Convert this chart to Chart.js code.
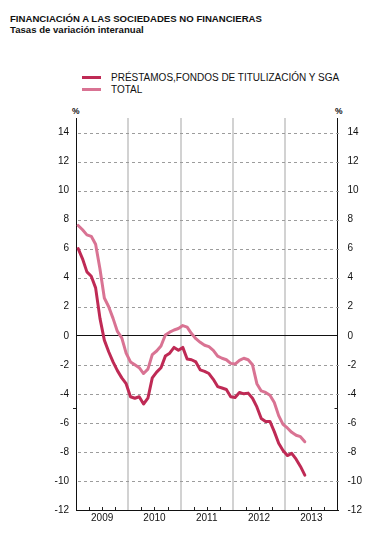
<!DOCTYPE html>
<html>
<head>
<meta charset="utf-8">
<script src="https://cdn.jsdelivr.net/npm/chart.js@4.4.1/dist/chart.umd.min.js"></script>
<style>
  html, body { margin: 0; padding: 0; background: #fff; }
  body { width: 380px; height: 537px; position: relative; overflow: hidden; font-family: Arial, "Liberation Sans", sans-serif; color: #111; }
  #chart { position: absolute; left: 0; top: 0; }
  .title { position: absolute; left: 10px; font-weight: bold; font-size: 9.6px; line-height: 1; white-space: nowrap; }
  .pct { position: absolute; top: 106px; font-weight: bold; font-size: 8.5px; }
  #legend { position: absolute; left: 82px; top: 71px; font-size: 10px; }
  #legend .row { height: 12px; display: flex; align-items: center; white-space: nowrap; }
  #legend .sw { width: 19px; height: 3px; margin-right: 10px; }
</style>
</head>
<body>
<div class="title" style="top:14px">FINANCIACIÓN A LAS SOCIEDADES NO FINANCIERAS</div>
<div class="title" style="top:25px">Tasas de variación interanual</div>
<div id="legend"></div>
<div class="pct" style="left:72px">%</div>
<div class="pct" style="left:335px">%</div>
<canvas id="chart" width="380" height="537"></canvas>
<script>
// monthly, Jan 2009 .. May 2013
const prestamos = [
  6.0, 5.3, 4.4, 4.1, 3.3, 1.2, -0.3, -1.1, -1.8, -2.4, -2.9, -3.3,
  -4.2, -4.3, -4.2, -4.7, -4.3, -2.9, -2.5, -2.2, -1.4, -1.2, -0.8, -1.0,
  -0.8, -1.6, -1.65, -1.8, -2.35, -2.45, -2.6, -3.0, -3.5, -3.6, -3.7, -4.2,
  -4.25, -3.9, -4.0, -3.95, -4.3, -4.9, -5.7, -5.9, -5.9, -6.6, -7.4, -7.9,
  -8.25, -8.1, -8.5, -9.0, -9.6,
];
const total = [
  7.6, 7.3, 6.95, 6.85, 6.3, 4.6, 2.6, 2.0, 1.2, 0.3, -0.15, -1.2,
  -1.8, -2.0, -2.2, -2.6, -2.3, -1.3, -1.05, -0.7, 0.05, 0.25, 0.4, 0.5,
  0.7, 0.6, 0.15, -0.2, -0.45, -0.65, -0.75, -1.0, -1.4, -1.55, -1.65, -1.9,
  -1.95, -1.7, -1.55, -1.65, -2.0, -3.3, -3.8, -3.9, -4.1, -4.6, -5.5, -6.1,
  -6.35, -6.65, -6.85, -6.95, -7.3,
];
const years = ['2009', '2010', '2011', '2012', '2013'];
const yTicks = [-12, -10, -8, -6, -4, -2, 0, 2, 4, 6, 8, 10, 12, 14];

const DARK = '#bf2a55';
const LIGHT = '#d97393';
const GRID = '#9c9c9c';

const toPoints = (arr) => arr.map((v, i) => ({ x: i + 0.5, y: v }));

const yAxisTicks = (scale) => {
  scale.ticks = yTicks.map((v) => ({ value: v }));
};

// dashed horizontal grid under the lines
const dashedGrid = {
  id: 'dashedGrid',
  beforeDatasetsDraw(chart) {
    const { ctx, chartArea, scales } = chart;
    ctx.save();
    ctx.fillStyle = GRID;
    yTicks.forEach((v) => {
      if (v === 0 || v === -12)
        return;
      const y = Math.round(scales.y.getPixelForValue(v));
      for (let x = chartArea.left + 2; x < chartArea.right - 1; x += 6)
        ctx.fillRect(Math.round(x), y, 3, 1);
    });
    ctx.restore();
  },
};

// quarter marks on the bottom axis
const axisMarks = {
  id: 'axisMarks',
  afterDraw(chart) {
    const { ctx, chartArea, scales } = chart;
    ctx.save();
    ctx.fillStyle = '#222';
    for (let m = 3; m < years.length * 12; m += 3) {
      if (m % 12 === 0)
        continue;
      const x = Math.round(scales.x.getPixelForValue(m));
      ctx.fillRect(x, chartArea.bottom - 3, 1, 3);
    }
    const y = Math.round(scales.y.getPixelForValue(-5));
    ctx.fillRect(chartArea.left - 3, y, 3, 1);
    ctx.fillRect(chartArea.right - 3, y, 3, 1);
    ctx.restore();
  },
};

const chart = new Chart(document.getElementById('chart'), {
  type: 'line',
  data: {
    datasets: [
      { label: 'PRÉSTAMOS,FONDOS DE TITULIZACIÓN Y SGA', data: toPoints(prestamos), borderColor: DARK },
      { label: 'TOTAL', data: toPoints(total), borderColor: LIGHT },
    ],
  },
  plugins: [dashedGrid, axisMarks],
  options: {
    responsive: false,
    devicePixelRatio: 1,
    animation: false,
    layout: { padding: { left: 46, right: 2.5, top: 118, bottom: 0 } },
    elements: {
      line: { borderWidth: 3, tension: 0, fill: false, borderJoinStyle: 'round', borderCapStyle: 'round' },
      point: { radius: 0 },
    },
    plugins: {
      legend: { display: false },
      tooltip: { enabled: false },
    },
    scales: {
      x: {
        type: 'linear',
        min: 0,
        max: years.length * 12,
        afterBuildTicks(scale) {
          const t = [];
          for (let v = 0; v <= years.length * 12; v += 6)
            t.push({ value: v });
          scale.ticks = t;
        },
        afterFit(scale) { scale.height = 27; },
        ticks: {
          autoSkip: false,
          maxRotation: 0,
          padding: 2,
          color: '#111',
          font: { family: 'Arial, "Liberation Sans"', size: 10 },
          callback: (v) => (v % 12 === 6 ? years[(v - 6) / 12] : ''),
        },
        grid: {
          drawTicks: false,
          lineWidth: 2,
          color: (c) => {
            const v = c.tick && c.tick.value;
            return v > 0 && v < years.length * 12 && v % 12 === 0 ? '#d2d2d2' : 'transparent';
          },
        },
        border: { color: '#111', width: 1 },
      },
      y: {
        position: 'left',
        min: -12,
        max: 15,
        afterBuildTicks: yAxisTicks,
        afterFit(scale) { scale.width = 30; },
        ticks: {
          padding: 7,
          color: '#111',
          font: { family: 'Arial, "Liberation Sans"', size: 10 },
        },
        grid: {
          drawTicks: false,
          lineWidth: 1,
          // only the zero line comes from the scale, the dashed ones from the plugin
          color: (c) => (c.tick && c.tick.value === 0 ? '#111' : 'transparent'),
        },
        border: { color: '#111', width: 1 },
      },
      y2: {
        position: 'right',
        min: -12,
        max: 15,
        afterBuildTicks: yAxisTicks,
        afterFit(scale) { scale.width = 40; },
        ticks: {
          padding: 10,
          color: '#111',
          font: { family: 'Arial, "Liberation Sans"', size: 10 },
        },
        grid: { display: false, drawTicks: false },
        border: { color: '#111', width: 1 },
      },
    },
  },
});

// html legend from the chart's datasets
const legendEl = document.getElementById('legend');
chart.data.datasets.forEach((ds) => {
  const row = document.createElement('div');
  row.className = 'row';
  row.innerHTML = `<span class="sw" style="background:${ds.borderColor}"></span><span>${ds.label}</span>`;
  legendEl.appendChild(row);
});
</script>
</body>
</html>
